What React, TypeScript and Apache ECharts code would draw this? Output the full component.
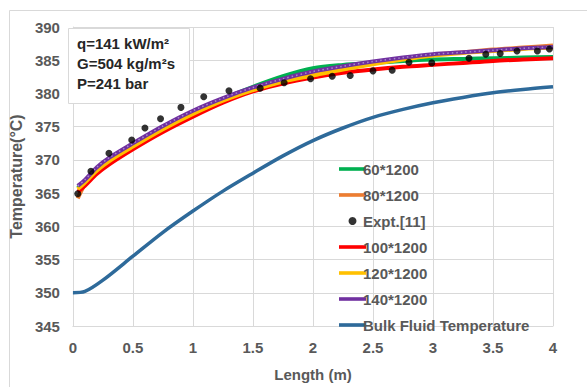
import React, { useEffect, useRef } from "react";
import * as echarts from "echarts";

const simLength = [0.04, 0.1, 0.2, 0.3, 0.5, 0.75, 1.0, 1.25, 1.5, 1.75, 2.0, 2.25, 2.5, 2.75, 3.0, 3.25, 3.5, 3.75, 4.0];
const mesh60 = [365.8, 366.8, 368.7, 370.1, 372.3, 374.9, 377.2, 379.2, 381.0, 382.6, 383.8, 384.3, 384.6, 384.9, 385.1, 385.2, 385.3, 385.4, 385.5];
const mesh80 = [364.2, 366.3, 368.3, 369.8, 372.0, 374.6, 376.9, 378.9, 380.5, 381.8, 382.8, 383.7, 384.5, 385.2, 385.8, 386.2, 386.6, 386.9, 387.2];
const mesh100 = [365.2, 366.1, 367.9, 369.3, 371.6, 374.2, 376.5, 378.6, 380.3, 381.5, 382.4, 383.1, 383.6, 384.0, 384.3, 384.6, 384.9, 385.1, 385.3];
const mesh120 = [365.6, 366.6, 368.4, 369.8, 372.0, 374.6, 376.9, 378.9, 380.5, 381.8, 382.7, 383.6, 384.4, 385.1, 385.7, 386.1, 386.4, 386.7, 386.9];
const mesh140 = [366.1, 367.0, 368.9, 370.3, 372.5, 375.1, 377.4, 379.3, 380.9, 382.2, 383.3, 384.1, 384.8, 385.4, 385.9, 386.2, 386.5, 386.8, 387.0];

const bulkLength = [0, 0.1, 0.25, 0.5, 0.75, 1.0, 1.25, 1.5, 1.75, 2.0, 2.25, 2.5, 2.75, 3.0, 3.25, 3.5, 3.75, 4.0];
const bulkTemp = [350.0, 350.2, 351.9, 355.5, 359.1, 362.3, 365.3, 368.0, 370.6, 372.9, 374.8, 376.4, 377.6, 378.6, 379.4, 380.1, 380.6, 381.0];

const exptLength = [0.04, 0.15, 0.3, 0.49, 0.6, 0.73, 0.9, 1.09, 1.3, 1.56, 1.76, 1.98, 2.16, 2.31, 2.5, 2.66, 2.8, 2.99, 3.3, 3.44, 3.56, 3.7, 3.87, 3.97];
const exptTemp = [364.9, 368.3, 371.0, 373.0, 374.8, 376.2, 377.9, 379.5, 380.4, 380.8, 381.6, 382.2, 382.6, 382.7, 383.4, 383.5, 384.7, 384.6, 385.3, 385.9, 386.0, 386.4, 386.4, 386.7];

const legendNames = ["60*1200", "80*1200", "Expt.[11]", "100*1200", "120*1200", "140*1200", "Bulk Fluid Temperature"];
const annotation = ["q=141 kW/m²", "G=504 kg/m²s", "P=241 bar"];

const pair = (xs: number[], ys: number[]) => xs.map((x, i) => [x, ys[i]]);

export default function App() {
  const ref = useRef<HTMLDivElement>(null);
  useEffect(() => {
    if (!ref.current) return;
    const chart = echarts.init(ref.current, null, { renderer: "svg" });
    const font = "'Liberation Sans', Arial, sans-serif";
    const lineSeries = (name: string, data: number[][], color: string, width = 4, z = 2) => ({
      name,
      type: "line",
      data,
      smooth: 0.3,
      symbol: "none",
      lineStyle: { color, width },
      itemStyle: { color },
      z,
    });
    const lineIcon = "path://M0 0H30V4H0Z";
    chart.setOption({
      animation: false,
      backgroundColor: "#ffffff",
      textStyle: { fontFamily: font },
      grid: { left: 68, right: 34, top: 27, bottom: 54, containLabel: false },
      xAxis: {
        type: "value",
        min: 0,
        max: 4,
        interval: 0.5,
        name: "Length (m)",
        nameLocation: "middle",
        nameGap: 41,
        nameTextStyle: { fontFamily: font, fontWeight: "bold", fontSize: 15, color: "#595959" },
        axisLine: { lineStyle: { color: "#D9D9D9", width: 1 } },
        axisTick: { show: false },
        axisLabel: { fontFamily: font, fontWeight: "bold", fontSize: 15, color: "#595959", margin: 14 },
        splitLine: { show: true, lineStyle: { color: "#D9D9D9", width: 1 } },
      },
      yAxis: {
        type: "value",
        min: 345,
        max: 390,
        interval: 5,
        name: "Temperature(°C)",
        nameLocation: "middle",
        nameGap: 36,
        nameTextStyle: { fontFamily: font, fontWeight: "bold", fontSize: 16, color: "#595959" },
        axisLine: { show: true, lineStyle: { color: "#D9D9D9", width: 1 } },
        axisTick: { show: false },
        axisLabel: { fontFamily: font, fontWeight: "bold", fontSize: 15, color: "#595959", margin: 13 },
        splitLine: { show: true, lineStyle: { color: "#D9D9D9", width: 1 } },
      },
      legend: {
        orient: "vertical",
        left: 334,
        top: 155,
        itemWidth: 27,
        itemHeight: 8,
        itemGap: 8,
        data: legendNames.map((n, i) => ({ name: n, icon: i === 2 ? "circle" : lineIcon })),
        textStyle: { fontFamily: font, fontWeight: "bold", fontSize: 15, color: "#595959", lineHeight: 18, padding: [0, 0, 0, -8] },
      },
      graphic: [
        {
          type: "rect",
          left: 7,
          top: 8,
          shape: { width: 620, height: 420 },
          style: { fill: "none", stroke: "#D9D9D9", lineWidth: 1 },
          silent: true,
          z: -10,
        },
        {
          type: "rect",
          left: 68,
          top: 28,
          shape: { width: 121, height: 75 },
          style: { fill: "#ffffff", stroke: "#D9D9D9", lineWidth: 1 },
          z: 10,
        },
        ...annotation.map((t, i) => ({
          type: "text",
          left: 77,
          top: 36 + i * 20,
          style: { text: t, font: `bold 15px ${font}`, fill: "#262626" },
          z: 11,
        })),
      ],
      series: [
        lineSeries(legendNames[0], pair(simLength, mesh60), "#00B050", 4, 2),
        lineSeries(legendNames[1], pair(simLength, mesh80), "#ED7D31", 4, 3),
        {
          name: legendNames[2],
          type: "scatter",
          data: pair(exptLength, exptTemp),
          symbol: "circle",
          symbolSize: 7,
          itemStyle: { color: "#000000" },
          z: 9,
        },
        lineSeries(legendNames[3], pair(simLength, mesh100), "#FF0000", 4, 4),
        lineSeries(legendNames[4], pair(simLength, mesh120), "#FFC000", 4, 5),
        lineSeries(legendNames[5], pair(simLength, mesh140), "#7030A0", 4, 6),
        {
          name: "140 overlay",
          type: "line",
          data: pair(simLength, mesh140),
          smooth: 0.3,
          symbol: "none",
          lineStyle: { color: "#A88BCB", width: 1.5, type: [1.5, 3] },
          z: 7,
          silent: true,
        },
        lineSeries(legendNames[6], pair(bulkLength, bulkTemp), "#2E6A9A", 3.5, 8),
      ],
    });
    return () => chart.dispose();
  }, []);
  return <div ref={ref} style={{ width: 587, height: 387, position: "absolute", left: 0, top: 0 }} />;
}
